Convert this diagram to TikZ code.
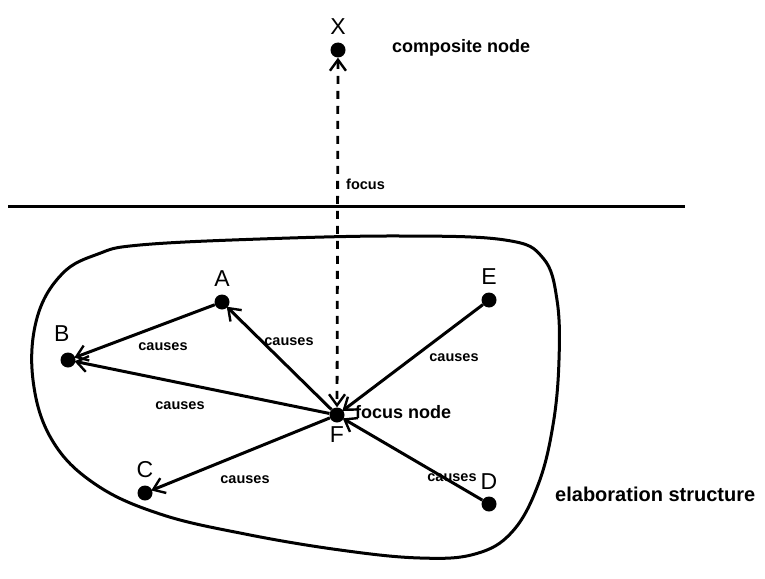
\documentclass[tikz,border=0pt]{standalone}
\usepackage{fontspec}
\setmainfont{Liberation Sans}
\usetikzlibrary{arrows.meta,positioning}

\begin{document}
\begin{tikzpicture}[
    x=1pt, y=-1pt,
    >={Straight Barb[length=11pt,width=16pt,line width=2.4pt]},
    dot/.style={circle, fill=black, inner sep=0pt, minimum size=15pt},
    letter/.style={font=\fontsize{23}{25}\selectfont, inner sep=1pt},
    rel/.style={->, line width=3pt, shorten >=-1pt},
    focusline/.style={<->, line width=2.8pt, dash pattern=on 8pt off 7pt},
    blob/.style={line width=3pt},
    small/.style={font=\bfseries\fontsize{14.5}{16}\selectfont, inner sep=1pt},
    caption/.style={font=\bfseries\fontsize{18}{20}\selectfont, anchor=west, inner sep=0pt}
]
\useasboundingbox (0,0) rectangle (765,578);

% Nodes
\node[dot] (X) at (338,50) {};
\node[dot] (A) at (222,302) {};
\node[dot] (B) at (68,360) {};
\node[dot] (E) at (489,300) {};
\node[dot] (F) at (337,415) {};
\node[dot] (C) at (145,493) {};
\node[dot] (D) at (489,504) {};

% Node letters
\node[letter, above=7pt of X] (Xl) {X};
\node[letter, above=7pt of A] (Al) {A};
\node[letter, above left=12pt and -8pt of B] (Bl) {B};
\node[letter, above=7pt of E] (El) {E};
\node[letter, below=3pt of F] (Fl) {F};
\node[letter, above=6pt of C] (Cl) {C};
\node[letter, above=6pt of D] (Dl) {D};

% Level separator
\coordinate (sepL) at (8,206);
\coordinate (sepR) at (685,206);
\draw[line width=3pt] (sepL) -- (sepR);

% Elaboration structure outline
\draw[blob] plot[smooth cycle, tension=0.65] coordinates {
    (140,245) (260,239) (400,236) (505,240) (543,258) (557,300)
    (559,360) (553,425) (538,485) (512,532) (475,554) (420,558)
    (340,550) (245,534) (160,514) (95,484) (52,440) (33,380)
    (37,318) (62,274) (98,254)};

% Focus link
\draw[focusline] (X) -- (F);

% Causal links
\draw[rel] (A) -- (B);
\draw[rel] (F) -- (A);
\draw[rel] (F) -- (B);
\draw[rel] (E) -- (F);
\draw[rel] (F) -- (C);
\draw[rel] (D) -- (F);

% Link labels
\node[small] (cAB) at (163,347) {causes};
\node[small] (cFA) at (289,342) {causes};
\node[small] (cFB) at (180,406) {causes};
\node[small] (cEF) at (454,358) {causes};
\node[small] (cFC) at (245,480) {causes};
\node[small] (cDF) at (452,478) {causes};
\node[small, anchor=west] (foc) at (345,184) {focus};

% Captions
\node[caption] (comp) at (392,48) {composite node};
\node[caption] (fnode) at (355,412) {focus node};
\node[caption, font=\bfseries\fontsize{20}{22}\selectfont] (elab) at (555,494) {elaboration structure};

\end{tikzpicture}
\end{document}
